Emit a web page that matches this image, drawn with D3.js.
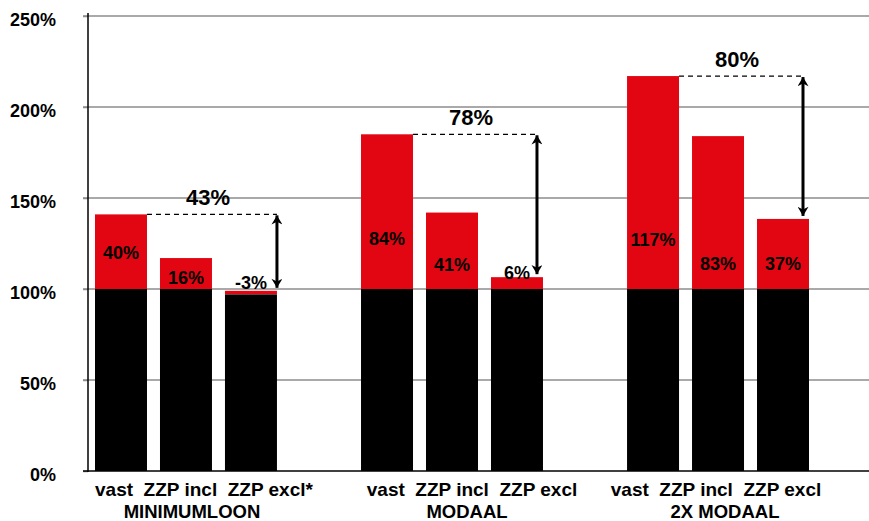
<!DOCTYPE html>
<html>
<head>
<meta charset="utf-8">
<script src="https://cdn.jsdelivr.net/npm/d3@7"></script>
<style>
  html, body { margin: 0; padding: 0; background: #fff; }
  svg { display: block; font-family: Arial, "Liberation Sans", sans-serif; font-weight: bold; }
</style>
</head>
<body>
<div id="chart"></div>
<script>
// data
const groups = ['MINIMUMLOON', 'MODAAL', '2X MODAAL'];
const series = ['vast', 'ZZP incl', 'ZZP excl'];
const seriesLabels = [
  ['vast', 'ZZP incl', 'ZZP excl*'],
  ['vast', 'ZZP incl', 'ZZP excl'],
  ['vast', 'ZZP incl', 'ZZP excl']
];
// black part (base) and total height of each bar, in %
const base = [
  [100, 100, 97],
  [100, 100, 100],
  [100, 100, 100]
];
const total = [
  [141, 117, 99],
  [185, 142, 106.5],
  [217, 184, 138.5]
];
// text shown on the red part and where it sits (in %)
const barLabels = [
  ['40%', '16%', '-3%'],
  ['84%', '41%', '6%'],
  ['117%', '83%', '37%']
];
const barLabelAt = [
  [120, 106.5, 103.5],
  [128, 113.7, 109],
  [127, 114, 114]
];
const gapLabels = ['43%', '78%', '80%'];
const yTicks = [0, 50, 100, 150, 200, 250];

const W = 869, H = 521;
const RED = '#e20613';

const svg = d3.select('#chart').append('svg').attr('width', W).attr('height', H);

const y = d3.scaleLinear().domain([0, 250]).range([471, 16]);

// each category is 266px wide, bars packed to the left of it
const x0 = d3.scaleBand()
  .domain(groups)
  .range([95, 809])
  .paddingInner(0.316)
  .paddingOuter(0)
  .align(0);

const x1 = d3.scaleBand()
  .domain(series)
  .range([0, x0.bandwidth()])
  .paddingInner(0.2)
  .paddingOuter(0);

// gridlines
svg.append('g')
  .selectAll('line')
  .data(yTicks.filter(d => d > 0))
  .join('line')
  .attr('x1', 83).attr('x2', W)
  .attr('y1', d => y(d)).attr('y2', d => y(d))
  .attr('stroke', '#8c8c8c')
  .attr('stroke-width', 1.5);

// bars
const rows = [];
groups.forEach((g, gi) => {
  series.forEach((s, si) => {
    rows.push({ g, s, gi, si, base: base[gi][si], total: total[gi][si],
      label: barLabels[gi][si], labelAt: barLabelAt[gi][si] });
  });
});

const bx = d => x0(d.g) + x1(d.s);

svg.append('g')
  .selectAll('rect')
  .data(rows)
  .join('rect')
  .attr('x', bx)
  .attr('width', x1.bandwidth())
  .attr('y', d => y(d.total))
  .attr('height', d => y(d.base) - y(d.total))
  .attr('fill', RED);

svg.append('g')
  .selectAll('rect')
  .data(rows)
  .join('rect')
  .attr('x', bx)
  .attr('width', x1.bandwidth())
  .attr('y', d => y(d.base))
  .attr('height', d => y(0) - y(d.base))
  .attr('fill', '#000');

svg.append('g')
  .selectAll('text')
  .data(rows)
  .join('text')
  .attr('x', d => bx(d) + x1.bandwidth() / 2)
  .attr('y', d => y(d.labelAt))
  .attr('dy', '0.36em')
  .attr('text-anchor', 'middle')
  .attr('font-size', 18)
  .attr('fill', '#000')
  .text(d => d.label);

// axes
const yAxis = svg.append('g')
  .attr('transform', 'translate(88,0)')
  .call(d3.axisLeft(y).tickValues(yTicks).tickSize(5).tickFormat(d => d + '%'));
yAxis.select('.domain').remove();
yAxis.selectAll('.tick line').attr('stroke', '#8c8c8c').attr('stroke-width', 1.5);
yAxis.selectAll('.tick text')
  .attr('x', -32)
  .attr('dy', '0.55em')
  .attr('font-size', 18)
  .attr('font-family', 'Arial, "Liberation Sans", sans-serif')
  .attr('font-weight', 'bold')
  .attr('fill', '#000');

svg.append('line')
  .attr('x1', 88).attr('x2', 88)
  .attr('y1', 13).attr('y2', y(0) + 1)
  .attr('stroke', '#000').attr('stroke-width', 1.5);
svg.append('line')
  .attr('x1', 83).attr('x2', W)
  .attr('y1', y(0)).attr('y2', y(0))
  .attr('stroke', '#000').attr('stroke-width', 1.5);

// gap annotations: dashed line + double arrow + label
const defs = svg.append('defs');
['start', 'end'].forEach(k => {
  defs.append('marker')
    .attr('id', 'ah-' + k)
    .attr('viewBox', '0 0 10 12')
    .attr('refX', 10).attr('refY', 6)
    .attr('markerUnits', 'userSpaceOnUse')
    .attr('markerWidth', 14).attr('markerHeight', 11)
    .attr('orient', k === 'start' ? 'auto-start-reverse' : 'auto')
    .append('path')
    .attr('d', 'M0,0 L10,6 L0,12 L3,6 Z')
    .attr('fill', '#000');
});

groups.forEach((g, gi) => {
  const top = total[gi][0];
  const bottom = total[gi][2];
  const xa = x0(g) + x1(series[0]) + x1.bandwidth();
  const xb = x0(g) + x1(series[2]) + x1.bandwidth() - (gi === 0 ? 0 : 6);
  svg.append('line')
    .attr('x1', xa).attr('x2', xb)
    .attr('y1', y(top)).attr('y2', y(top))
    .attr('stroke', '#000').attr('stroke-width', 1.3)
    .attr('stroke-dasharray', '5,4');
  svg.append('line')
    .attr('x1', xb).attr('x2', xb)
    .attr('y1', y(top) + 1).attr('y2', y(bottom) - 3)
    .attr('stroke', '#000').attr('stroke-width', 3)
    .attr('marker-start', 'url(#ah-start)')
    .attr('marker-end', 'url(#ah-end)');
  svg.append('text')
    .attr('x', (xa + xb) / 2 - 4)
    .attr('y', y(top) - 9)
    .attr('text-anchor', 'middle')
    .attr('font-size', 22)
    .text(gapLabels[gi]);
});

// category labels (hand-nudged like the original slide)
const lineShift = [18, 20, -2];
const nameShift = [6, 15, 7];
groups.forEach((g, gi) => {
  const cx = x0(g) + x0.bandwidth() / 2;
  svg.append('text')
    .attr('x', cx + lineShift[gi])
    .attr('y', 496)
    .attr('text-anchor', 'middle')
    .attr('font-size', 19)
    .style('white-space', 'pre')
    .text(seriesLabels[gi].join('  '));
  svg.append('text')
    .attr('x', cx + nameShift[gi])
    .attr('y', 518)
    .attr('text-anchor', 'middle')
    .attr('font-size', 18.5)
    .text(g);
});
</script>
</body>
</html>
